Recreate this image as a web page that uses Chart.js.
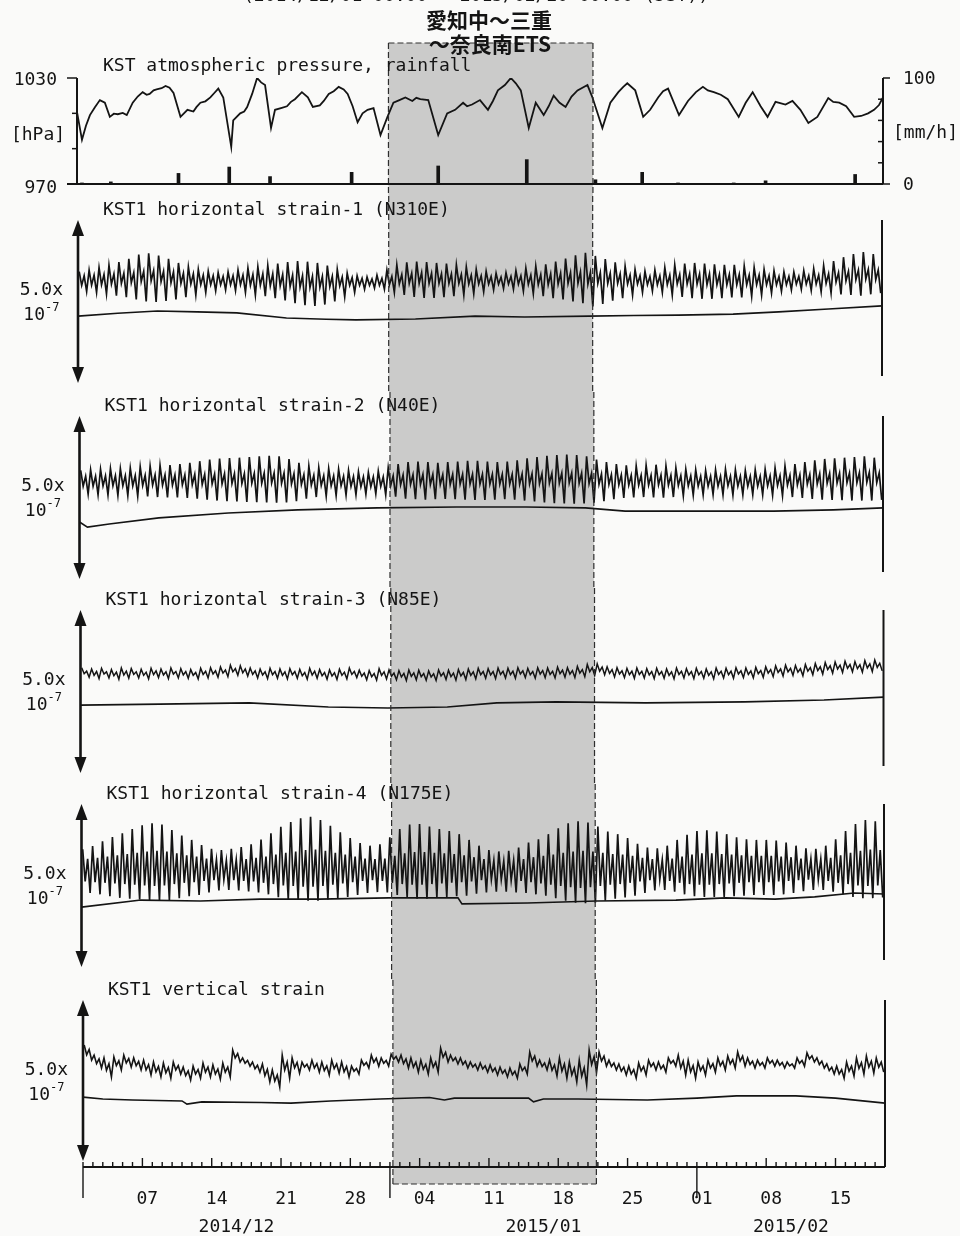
<!DOCTYPE html>
<html>
<head>
<meta charset="utf-8">
<script src="https://cdn.jsdelivr.net/npm/chart.js@4.4.1/dist/chart.umd.min.js"></script>
<style>
body { margin: 0; background: #fafaf9; }
#wrap { position: relative; width: 960px; height: 1236px; overflow: hidden; }
</style>
</head>
<body>
<div id="wrap"></div>
<script>
// ---- time axis (days since 2014/12/01 00:00) ----
const bandStart = 31.3, bandEnd = 51.85;           // 愛知中～三重～奈良南 ETS period
const tickDays = [6, 13, 20, 27, 34, 41, 48, 55, 62, 69, 76];
const tickLabels = ['07', '14', '21', '28', '04', '11', '18', '25', '01', '08', '15'];
const monthStart = [0, 31, 62];
const monthEnd = [31, 62, 81];
const monthLabels = ['2014/12', '2015/01', '2015/02'];

// ---- KST atmospheric pressure [hPa] and rainfall [mm/h] ----
const pressDay = [0.0,0.5,0.9,1.3,1.8,2.3,2.8,3.3,3.7,4.1,4.6,5.0,5.6,6.1,6.6,7.0,7.3,7.7,8.0,8.5,8.9,9.3,9.7,10.4,11.1,11.7,12.0,12.4,12.9,13.4,13.8,14.2,14.7,15.5,15.7,16.4,16.8,17.1,17.6,18.1,18.5,18.9,19.5,19.9,20.5,21.1,21.5,21.9,22.6,23.2,23.7,24.4,24.8,25.3,25.8,26.3,26.8,27.2,27.7,28.2,28.7,29.2,29.8,30.5,31.2,31.8,32.4,33.0,33.7,34.1,34.5,35.3,36.3,37.2,38.0,38.8,39.2,39.7,40.5,41.3,41.8,42.3,43.0,43.6,44.1,44.6,45.4,46.1,46.9,47.4,47.9,48.5,49.1,49.7,50.3,51.3,51.8,52.8,53.6,54.4,54.9,55.3,56.1,56.9,57.6,58.4,58.9,59.4,60.5,61.4,62.2,62.9,63.4,64.0,64.7,65.4,66.5,67.2,67.9,68.7,69.4,70.2,71.2,71.9,72.7,73.5,74.4,75.5,76.0,76.6,77.3,78.1,78.8,79.5,80.1,80.6,81.0];
const pressHpa = [1010.8,995,1003,1009,1013.5,1017.5,1016,1008,1009.8,1009.5,1010.2,1009,1016,1019.5,1022,1020.5,1021,1023,1023.5,1024.2,1025.5,1024.5,1021.5,1008,1012,1011,1013.5,1016,1016.8,1019,1021.5,1024,1019,991,1006,1010,1011,1013.6,1021,1030,1027.5,1026,1001.7,1012,1013,1014,1016.5,1018,1022,1019,1013.6,1014.5,1017,1021,1022.5,1025,1023.5,1021,1014,1005,1010,1012,1013,997.7,1008,1016,1017.5,1019,1017,1018.8,1018,1017.5,997.7,1010,1012,1016,1014,1015,1017.5,1012,1017,1023,1026,1030,1027,1023,1001.7,1016,1009,1014,1020,1016,1013.6,1019.5,1023,1026,1019,1001.7,1016,1022,1025,1027,1023,1008,1012,1019,1022.5,1024,1009,1017,1022,1025,1023,1022,1020.5,1018,1008,1016,1022,1014,1008,1016.5,1015,1017,1012,1004.5,1008,1018.6,1016.5,1016,1014,1008,1008.5,1010,1012,1014.7,1019];
const rainDay = [0.5,3.4,10.2,15.3,19.4,27.6,36.3,45.2,52.1,56.8,60.4,66.0,69.2,78.2];
const rainRate = [1,2,10,16,7,11,17,23,4,11,1,1,3,9];
const pressTicks = [970, 990, 1010, 1030];
const rainTicks = [0, 20, 40, 60, 80, 100];

// ---- strain traces, units of 1e-8 ----
// per day: main high, secondary low, secondary high, main low of the record
const s1Hi = [34.5,35.0,35.8,36.5,37.5,38.5,39.8,40.2,39.5,38.5,37.2,36.0,35.2,34.6,34.2,34.4,35.0,35.6,36.0,36.4,37.0,37.5,37.8,37.6,37.2,36.4,35.2,34.0,33.2,32.8,33.4,35.0,36.6,37.4,37.6,37.5,37.2,37.0,36.6,36.0,35.2,34.6,34.0,34.2,34.8,35.6,36.2,36.8,37.6,38.6,39.6,40.4,39.4,38.4,37.4,36.2,35.2,34.6,35.0,35.8,36.6,37.0,37.2,37.0,36.8,36.6,36.6,36.2,35.8,35.2,34.8,34.4,34.4,34.8,35.4,36.4,37.8,39.0,40.0,40.6,40.0];
const s1Lo2 = [30.2,30.3,30.4,30.6,30.8,31.0,31.4,31.6,31.4,31.0,30.8,30.6,30.4,30.4,30.4,30.4,30.4,30.2,30.2,30.0,30.0,29.8,29.6,29.5,29.6,29.8,30.0,30.2,30.2,30.2,30.2,30.4,30.6,30.8,30.8,30.8,30.8,30.8,30.8,30.6,30.6,30.6,30.6,30.6,30.6,30.5,30.4,30.4,30.6,30.8,30.8,30.6,30.8,30.8,30.8,30.6,30.6,30.4,30.4,30.4,30.6,30.6,30.6,30.4,30.4,30.4,30.4,30.4,30.4,30.4,30.4,30.4,30.6,30.6,30.6,30.8,31.2,31.6,32.0,32.2,32.0];
const s1Hi2 = [33.2,33.4,33.6,33.8,34.0,34.2,34.6,34.8,34.6,34.4,34.0,33.8,33.4,33.2,33.0,33.2,33.4,33.6,33.8,33.8,33.6,33.4,33.2,33.0,33.0,33.0,32.8,32.6,32.4,32.2,32.4,33.0,33.6,34.0,34.2,34.0,33.8,33.8,33.6,33.4,33.2,33.0,32.8,33.0,33.2,33.4,33.6,33.8,34.0,34.2,34.4,34.2,34.2,34.0,33.8,33.4,33.2,33.0,33.2,33.4,33.6,33.8,33.8,33.8,33.6,33.6,33.6,33.4,33.4,33.2,33.0,33.0,33.0,33.2,33.4,33.8,34.2,34.6,35.0,35.2,35.0];
const s1Lo = [28.3,28.0,27.5,27.0,26.5,25.8,25.2,25.0,25.3,25.8,26.5,27.2,28.0,28.5,28.8,28.6,28.0,27.2,26.8,26.2,25.5,24.6,24.0,23.8,24.2,25.2,26.6,28.0,29.0,29.4,29.0,28.0,27.2,26.6,26.3,26.3,26.5,26.8,27.2,27.6,28.2,28.8,29.2,29.0,28.4,27.6,26.8,26.2,25.8,25.2,24.6,23.6,24.4,25.4,26.2,27.2,28.0,28.4,28.0,27.2,26.6,26.2,26.0,26.0,26.2,26.4,26.4,26.8,27.2,27.8,28.4,28.8,29.0,28.6,28.2,27.8,27.4,27.2,27.0,27.4,27.8];
const s1SmDay = [0,4,8,12,16,21,25,28,34,40,45,51.5,56,60.5,66,70.6,75.6,81];
const s1SmVal = [20.6,21.5,22.2,21.9,21.6,20.0,19.6,19.4,19.7,20.6,20.3,20.6,20.8,20.9,21.2,21.9,22.8,23.8];

const s2Hi = [33.6,33.8,34.0,34.2,34.2,34.4,34.8,35.0,35.2,35.3,35.6,36.0,36.5,37.0,37.3,37.5,37.6,37.8,38.0,38.2,38.0,37.2,36.0,35.0,34.5,34.2,34.0,33.6,33.2,33.0,33.4,34.5,35.6,36.2,36.4,36.2,36.0,36.2,36.4,36.6,36.6,36.4,36.2,36.4,36.8,37.4,37.8,38.2,38.4,38.6,38.4,38.0,37.0,36.2,35.6,35.2,35.0,35.2,35.4,35.0,34.4,34.0,33.8,33.6,33.8,34.0,33.8,33.6,33.8,34.0,34.4,35.0,35.6,36.2,36.8,37.2,37.4,37.6,37.8,38.0,37.6];
const s2Lo2 = [28.7,28.7,28.8,28.8,28.8,28.8,28.9,29.0,29.0,29.0,29.1,29.2,29.2,29.4,29.4,29.5,29.5,29.6,29.6,29.7,29.6,29.4,29.2,29.0,28.9,28.8,28.8,28.6,28.5,28.5,28.6,28.9,29.1,29.2,29.2,29.2,29.2,29.2,29.3,29.3,29.3,29.3,29.3,29.3,29.3,29.4,29.5,29.6,29.6,29.7,29.6,29.5,29.3,29.2,29.1,29.0,29.0,29.0,29.1,29.0,28.9,28.8,28.7,28.7,28.7,28.8,28.7,28.7,28.7,28.8,28.9,29.0,29.1,29.3,29.4,29.6,29.7,29.8,29.8,29.9,29.8];
const s2Hi2 = [31.8,31.8,31.9,32.0,32.0,32.0,32.1,32.2,32.2,32.2,32.2,32.4,32.4,32.5,32.6,32.6,32.6,32.7,32.8,32.8,32.8,32.6,32.3,32.1,32.0,31.9,31.8,31.7,31.6,31.6,31.6,31.9,32.2,32.3,32.4,32.4,32.3,32.4,32.4,32.4,32.4,32.4,32.4,32.4,32.5,32.6,32.6,32.7,32.8,32.8,32.8,32.7,32.5,32.3,32.2,32.1,32.1,32.1,32.2,32.1,32.0,31.9,31.8,31.8,31.8,31.8,31.8,31.8,31.8,31.9,32.0,32.1,32.3,32.4,32.6,32.7,32.8,32.8,32.9,33.0,32.9];
const s2Lo = [26.2,26.0,26.0,25.8,25.8,25.6,25.5,25.3,25.2,25.2,25.0,24.8,24.5,24.2,24.0,23.9,23.8,23.7,23.6,23.5,23.6,24.0,24.8,25.3,25.6,25.8,25.9,26.0,26.2,26.3,26.0,25.4,24.8,24.6,24.5,24.6,24.7,24.6,24.5,24.4,24.4,24.5,24.6,24.5,24.2,23.9,23.6,23.4,23.3,23.2,23.3,23.5,24.0,24.6,25.0,25.2,25.3,25.2,25.1,25.3,25.7,25.9,26.0,26.1,26.0,25.9,26.0,26.1,26.0,25.9,25.7,25.3,25.0,24.7,24.5,24.4,24.3,24.2,24.2,24.2,24.4];
const s2SmDay = [0,0.8,3,8,15,22,30,38,45,51,55,62,70,76,81];
const s2SmVal = [17.5,15.9,16.9,18.8,20.3,21.3,21.9,22.2,22.2,21.9,20.9,20.9,20.9,21.3,21.9];

const s3Hi = [32.6,32.2,32.4,32.0,32.5,32.3,32.1,32.4,32.2,32.5,32.3,32.0,32.4,32.6,32.8,33.4,33.2,32.5,32.2,32.4,32.2,32.3,32.1,32.4,32.0,31.9,32.1,32.5,31.8,31.7,32.3,31.9,31.7,31.9,31.8,31.6,31.9,31.8,32.0,32.2,32.4,32.3,32.5,32.4,32.6,32.4,32.6,32.5,32.8,32.6,33.0,33.6,33.8,32.9,32.6,32.4,32.5,32.3,32.4,32.2,32.5,32.3,32.4,32.2,32.5,32.4,32.6,32.5,32.7,32.9,33.2,33.4,33.3,33.6,33.9,34.2,34.4,34.6,34.5,34.8,35.0];
const s3Lo2 = [30.7,30.2,30.6,30.1,30.3,30.5,30.2,30.4,30.3,30.6,30.3,30.2,30.5,30.6,30.9,31.3,31.0,30.5,30.3,30.4,30.2,30.4,30.1,30.3,30.1,30.0,30.2,30.5,29.9,29.8,30.2,29.9,29.7,29.9,29.8,29.7,30.0,29.8,30.0,30.2,30.4,30.3,30.5,30.4,30.6,30.4,30.6,30.5,30.7,30.6,30.9,31.3,31.5,30.8,30.6,30.4,30.5,30.3,30.4,30.2,30.5,30.3,30.4,30.2,30.5,30.4,30.6,30.5,30.7,30.9,31.1,31.3,31.2,31.5,31.7,32.0,32.2,32.4,32.3,32.5,32.7];
const s3Hi2 = [31.5,31.4,31.3,31.2,31.5,31.3,31.2,31.6,31.3,31.4,31.4,31.1,31.5,31.6,31.9,32.3,32.2,31.6,31.3,31.4,31.3,31.4,31.1,31.5,31.1,31.0,31.2,31.4,30.9,30.8,31.3,30.9,30.8,31.0,30.8,30.7,31.0,30.9,31.1,31.3,31.4,31.4,31.5,31.5,31.6,31.4,31.7,31.5,31.8,31.7,32.0,32.6,32.8,32.0,31.6,31.5,31.5,31.4,31.4,31.3,31.5,31.4,31.4,31.3,31.5,31.5,31.6,31.6,31.7,32.0,32.2,32.4,32.3,32.6,32.9,33.2,33.4,33.6,33.5,33.8,34.0];
const s3Lo = [29.6,29.2,29.4,29.0,29.3,29.4,29.1,29.5,29.2,29.4,29.3,29.1,29.4,29.6,29.8,30.2,30.0,29.4,29.2,29.3,29.1,29.3,29.0,29.3,29.0,28.9,29.1,29.5,28.8,28.7,29.1,28.8,28.6,28.8,28.7,28.6,28.9,28.7,28.9,29.1,29.3,29.2,29.4,29.3,29.5,29.3,29.5,29.4,29.6,29.5,29.8,30.2,30.4,29.7,29.5,29.3,29.4,29.2,29.3,29.1,29.4,29.2,29.3,29.1,29.4,29.3,29.5,29.4,29.6,29.8,30.0,30.2,30.1,30.4,30.6,30.9,31.1,31.3,31.2,31.4,31.6];
const s3SmDay = [0,8,17,25,31,37,42,48,57,67,75,81];
const s3SmVal = [20.9,21.2,21.6,20.3,20.0,20.3,21.6,21.9,21.6,21.9,22.5,23.4];

const s4Hi = [36.5,37.5,39.0,40.3,41.5,42.8,44.0,44.6,44.2,42.5,40.8,39.4,37.8,36.6,36.2,36.6,37.2,38.0,39.5,41.5,43.5,45.0,46.2,46.6,45.6,43.8,41.8,40.0,38.4,37.6,38.0,40.2,42.8,44.2,44.4,43.6,42.8,42.2,41.2,39.4,37.6,36.2,35.8,36.0,37.0,38.6,39.6,41.2,43.0,44.6,45.2,44.8,43.6,42.0,41.2,40.0,38.2,37.0,36.8,37.6,39.4,41.0,42.2,42.4,42.0,41.2,40.2,39.6,39.4,39.4,39.2,38.6,37.6,36.8,36.6,37.6,39.6,42.2,44.4,45.6,45.2];
const s4Lo2 = [26.4,26.2,26.0,25.8,25.6,25.4,25.2,25.0,25.2,25.6,26.0,26.2,26.6,26.8,27.0,26.8,26.6,26.4,26.0,25.6,25.2,25.0,24.8,24.8,25.0,25.4,25.8,26.2,26.6,26.8,26.6,26.0,25.6,25.4,25.4,25.6,25.8,26.0,26.2,26.4,26.8,27.0,27.0,26.8,26.6,26.2,25.8,25.4,25.0,24.6,24.4,24.6,25.0,25.4,25.6,26.0,26.4,26.8,27.0,26.6,26.0,25.6,25.4,25.4,25.6,25.8,26.0,26.2,26.2,26.2,26.4,26.6,26.8,27.0,27.0,26.6,26.0,25.6,25.2,25.0,25.2];
const s4Hi2 = [33.5,33.8,34.2,34.6,35.0,35.4,35.8,36.0,35.8,35.2,34.6,34.2,33.6,33.2,33.0,33.2,33.4,33.8,34.2,34.8,35.4,35.8,36.2,36.4,36.0,35.4,34.8,34.2,33.6,33.4,33.6,34.4,35.2,35.6,35.6,35.4,35.2,35.0,34.6,34.0,33.4,33.0,32.8,33.0,33.4,34.0,34.4,34.8,35.4,35.8,36.0,35.8,35.4,35.0,34.8,34.4,33.8,33.4,33.2,33.6,34.2,34.8,35.2,35.2,35.0,34.8,34.6,34.4,34.4,34.4,34.2,34.0,33.6,33.4,33.4,33.8,34.6,35.4,36.0,36.4,36.2];
const s4Lo = [22.8,22.4,21.8,21.3,21.0,20.8,20.6,20.5,20.6,21.2,21.8,22.2,23.0,23.6,23.8,23.6,23.3,23.0,22.4,21.5,20.8,20.6,20.4,20.4,20.8,21.2,21.6,22.2,22.8,23.1,23.0,22.2,21.4,21.0,21.0,21.4,21.6,21.8,22.0,22.6,23.0,23.2,23.2,23.0,22.8,22.4,22.0,21.2,20.4,19.8,19.6,19.8,20.4,21.0,21.4,22.0,22.8,23.6,23.8,23.2,22.4,21.8,21.6,21.6,21.6,21.8,22.0,22.2,22.2,22.2,22.4,22.8,23.4,23.8,23.8,23.2,22.4,21.6,21.2,21.2,21.4];
const s4SmDay = [0,6,12,18,24,31,38,38.4,45,52,60,65,70,74,78,81];
const s4SmVal = [18.4,20.6,20.3,20.9,20.9,21.3,21.3,19.4,19.7,20.3,20.6,21.3,20.9,21.6,22.8,22.5];

const s5Hi = [36.4,33.2,32.3,32.6,33.2,32.3,31.6,31.0,30.7,31.0,29.4,29.7,30.7,30.1,30.7,34.8,32.3,31.0,30.4,28.5,33.2,32.3,31.0,31.6,31.0,31.6,31.0,29.7,31.6,33.2,32.3,33.5,33.2,32.3,31.6,32.3,35.4,33.2,32.3,31.0,30.7,30.1,29.4,29.1,30.4,34.2,31.6,31.6,32.3,31.0,31.6,34.8,34.2,31.6,30.4,29.7,30.7,31.6,31.0,32.3,33.2,31.6,31.0,31.6,32.3,32.9,34.2,32.3,31.6,32.3,31.6,31.0,32.3,33.9,32.3,30.4,29.7,31.0,32.3,32.9,32.3];
const s5Lo2 = [33.3,30.5,28.4,29.9,30.7,29.8,28.5,27.9,27.6,28.5,26.7,27.2,27.8,27.2,27.8,32.3,30.6,28.9,26.7,25.0,28.5,29.2,29.4,29.1,28.3,28.9,27.9,28.1,30.0,30.9,30.6,31.9,30.5,29.4,28.7,29.4,32.5,31.4,30.2,29.4,28.8,28.0,27.4,27.0,28.3,31.3,29.6,28.4,28.1,26.9,26.5,30.2,31.3,29.6,28.1,27.2,28.2,29.6,28.9,30.6,29.1,27.9,28.3,29.1,29.8,30.4,31.3,30.2,30.0,30.6,30.0,29.8,30.6,32.0,30.2,28.3,27.2,28.1,29.0,29.4,29.4];
const s5Hi2 = [35.0,32.0,30.5,31.4,32.1,31.2,30.2,29.6,29.3,29.9,28.2,28.6,29.4,28.8,29.4,33.7,31.5,30.0,28.7,26.9,31.0,30.9,30.3,30.5,29.8,30.4,29.6,29.0,30.9,32.2,31.5,32.8,32.0,31.0,30.3,31.0,34.1,32.4,31.3,30.3,29.8,29.1,28.5,28.1,29.4,32.9,30.7,30.1,30.4,29.1,29.2,32.7,32.9,30.7,29.4,28.6,29.6,30.7,30.0,31.5,31.3,29.9,29.8,30.5,31.2,31.8,32.9,31.3,30.9,31.5,30.9,30.4,31.5,33.0,31.3,29.4,28.6,29.7,30.8,31.3,31.0];
const s5Lo = [31.6,29.1,26.3,28.5,29.4,28.5,26.9,26.3,25.9,27.2,25.3,25.9,26.3,25.6,26.3,31.0,29.7,27.8,24.7,23.1,25.9,27.5,28.5,27.8,26.9,27.5,26.3,27.2,29.1,29.7,29.7,31.0,29.1,27.8,27.2,27.8,31.0,30.4,29.1,28.5,27.8,26.9,26.3,25.9,27.2,29.7,28.5,26.6,25.9,24.7,23.7,27.8,29.7,28.5,26.9,25.9,26.9,28.5,27.8,29.7,26.9,25.9,26.9,27.8,28.5,29.1,29.7,29.1,29.1,29.7,29.1,29.1,29.7,31.0,29.1,27.2,25.9,26.6,27.2,27.5,27.8];
const s5SmDay = [0,2,5,10,10.5,12,18,21,25,30,35,36.5,37.5,40,45,45.5,46.5,50,57,62,66,72,76,81];
const s5SmVal = [19.9,19.3,19.0,18.7,17.7,18.4,18.2,18.0,18.7,19.3,19.8,19.0,19.6,19.6,19.6,18.4,19.3,19.3,19.0,19.6,20.3,20.3,19.6,18.0];

// ---- helpers ----
const INK = '#141414';
const MONO = '"DejaVu Sans Mono", monospace';

function pairs(xs, ys) { return xs.map((x, i) => ({ x: x, y: ys[i] })); }
function tidal(hi, lo2, hi2, lo) {
  const pts = [];
  hi.forEach((h, i) => {
    pts.push({ x: i + 0.12, y: h }, { x: i + 0.37, y: lo2[i] },
             { x: i + 0.62, y: hi2[i] }, { x: i + 0.87, y: lo[i] });
  });
  return pts;
}
function line(data, yId, w) {
  return { type: 'line', data: data, yAxisID: yId, borderColor: INK, borderWidth: w || 1.5,
           pointRadius: 0, tension: 0, fill: false };
}
function seg(ctx, x0, y0, x1, y1) { ctx.beginPath(); ctx.moveTo(x0, y0); ctx.lineTo(x1, y1); ctx.stroke(); }
function text(ctx, s, x, y, align, font) {
  ctx.font = font || ('18px ' + MONO);
  ctx.textAlign = align || 'left';
  ctx.textBaseline = 'middle';
  ctx.fillText(s, x, y);
}

// canvas placement of each panel (pressure + five strain panels)
const PANELS = [
  { top: 0,   h: 196, l: 77,   r: 77,   t: 78, b: 12, bandTop: 43, bandBot: 196 },
  { top: 196, h: 196, l: 78,   r: 78,   t: 26, b: 10, bandTop: 0,  bandBot: 196 },
  { top: 392, h: 196, l: 79.5, r: 77,   t: 26, b: 10, bandTop: 0,  bandBot: 196 },
  { top: 588, h: 196, l: 80.5, r: 76.5, t: 24, b: 12, bandTop: 0,  bandBot: 196 },
  { top: 784, h: 196, l: 81.5, r: 76,   t: 22, b: 14, bandTop: 0,  bandBot: 196 },
  { top: 980, h: 256, l: 83,   r: 75,   t: 22, b: 69, bandTop: 0,  bandBot: 204 }
];

function bandPlugin(p, decor) {
  return {
    id: 'decor',
    beforeDatasetsDraw(chart) {
      const ctx = chart.ctx, xs = chart.scales.x;
      const x0 = xs.getPixelForValue(bandStart), x1 = xs.getPixelForValue(bandEnd);
      ctx.save();
      ctx.fillStyle = '#cbcbca';
      ctx.fillRect(x0, p.bandTop, x1 - x0, p.bandBot - p.bandTop);
      ctx.restore();
    },
    afterDatasetsDraw(chart) {
      const ctx = chart.ctx, xs = chart.scales.x;
      const x0 = xs.getPixelForValue(bandStart), x1 = xs.getPixelForValue(bandEnd);
      ctx.save();
      ctx.strokeStyle = '#2e2e2e';
      ctx.lineWidth = 1.2;
      ctx.setLineDash([6, 3]);
      seg(ctx, x0, p.bandTop, x0, p.bandBot);
      seg(ctx, x1, p.bandTop, x1, p.bandBot);
      if (p.bandTop > 0) seg(ctx, x0, p.bandTop, x1, p.bandTop);
      if (p.bandBot < p.h) seg(ctx, x0, p.bandBot, x1, p.bandBot);
      ctx.restore();
      ctx.save();
      ctx.strokeStyle = INK;
      ctx.fillStyle = INK;
      decor(chart, ctx);
      ctx.restore();
    }
  };
}

function makeChart(p, datasets, yScales, decor) {
  const c = document.createElement('canvas');
  c.width = 960; c.height = p.h;
  c.style.cssText = 'position:absolute;left:0;top:' + p.top + 'px;width:960px;height:' + p.h + 'px';
  document.getElementById('wrap').appendChild(c);
  return new Chart(c.getContext('2d'), {
    type: 'line',
    data: { datasets: datasets },
    options: {
      responsive: false,
      animation: false,
      devicePixelRatio: 1,
      events: [],
      layout: { padding: { left: p.l, right: p.r, top: p.t, bottom: p.b } },
      plugins: { legend: { display: false }, tooltip: { enabled: false } },
      scales: Object.assign({ x: { type: 'linear', min: 0, max: 81, offset: false, display: false } }, yScales)
    },
    plugins: [bandPlugin(p, decor)]
  });
}

// ---- top panel: pressure + rainfall ----
makeChart(PANELS[0], [
  line(pairs(pressDay, pressHpa), 'yp', 1.8),
  { type: 'bar', data: pairs(rainDay, rainRate), yAxisID: 'yr', backgroundColor: INK, barThickness: 3 }
], {
  yp: { type: 'linear', min: 970, max: 1030, display: false },
  yr: { type: 'linear', min: 0, max: 100, display: false }
}, (chart, ctx) => {
  const a = chart.chartArea, yp = chart.scales.yp, yr = chart.scales.yr;
  ctx.lineWidth = 2;
  seg(ctx, a.left, yp.getPixelForValue(1030), a.left, yp.getPixelForValue(970) + 1);
  seg(ctx, a.left - 10, yp.getPixelForValue(970), a.right, yp.getPixelForValue(970));
  seg(ctx, a.right, yr.getPixelForValue(100), a.right, yr.getPixelForValue(0));
  ctx.lineWidth = 1.5;
  pressTicks.forEach(v => {
    const y = yp.getPixelForValue(v), len = (v === 970 || v === 1030) ? 10 : 5;
    seg(ctx, a.left - len, y, a.left, y);
  });
  rainTicks.forEach(v => {
    const y = yr.getPixelForValue(v);
    if (v === 0 || v === 100) seg(ctx, a.right, y, a.right + 7, y);
    else seg(ctx, a.right - 5, y, a.right, y);
  });
  text(ctx, '1030', 57, yp.getPixelForValue(1030) + 2, 'right');
  text(ctx, '[hPa]', 38, 135, 'center');
  text(ctx, '970', 57, yp.getPixelForValue(970) + 4, 'right');
  text(ctx, '100', 903, yr.getPixelForValue(100) + 1, 'left');
  text(ctx, '[mm/h]', 893, 133, 'left');
  text(ctx, '0', 903, yr.getPixelForValue(0) + 1, 'left');
  text(ctx, 'KST atmospheric pressure, rainfall', a.left + 26, 66, 'left');
  text(ctx, '(2014/12/01 00:00 - 2015/02/20 00:00 (JST))', 476, -4, 'center');
  text(ctx, '愛知中～三重', 489, 20, 'center', 'bold 21px "Noto Sans CJK JP"');
  text(ctx, '～奈良南ETS', 490, 44, 'center', 'bold 21px "Noto Sans CJK JP"');
});

// ---- strain panels ----
function strainDecor(title, withAxis) {
  return (chart, ctx) => {
    const a = chart.chartArea, ys = chart.scales.y;
    const yb = ys.getPixelForValue(0), yt = ys.getPixelForValue(50);
    // double-headed 5.0x10^-7 scale arrow
    ctx.lineWidth = 2.6;
    seg(ctx, a.left, yt + 8, a.left, yb - 8);
    ctx.beginPath();
    ctx.moveTo(a.left, yt - 2); ctx.lineTo(a.left - 6, yt + 14); ctx.lineTo(a.left + 6, yt + 14); ctx.closePath();
    ctx.moveTo(a.left, yb + 1); ctx.lineTo(a.left - 6, yb - 15); ctx.lineTo(a.left + 6, yb - 15); ctx.closePath();
    ctx.fill();
    ctx.lineWidth = 2;
    seg(ctx, a.right, yt - 2, a.right, withAxis ? a.bottom : yb - 6);
    text(ctx, '5.0x', a.left - 15, yt + 68, 'right');
    text(ctx, '10', a.left - 33, yt + 93, 'right');
    text(ctx, '-7', a.left - 33, yt + 86, 'left', '12px ' + MONO);
    text(ctx, title, a.left + 25, yt - 12, 'left');
    if (!withAxis) return;
    // time axis
    const xs = chart.scales.x, y0 = a.bottom;
    seg(ctx, a.left, y0, a.right, y0);
    ctx.lineWidth = 1.4;
    for (let d = 0; d <= 80; d++) {
      const px = xs.getPixelForValue(d);
      if (monthStart.includes(d)) seg(ctx, px, y0 - 5, px, y0 + 31);
      else if (tickDays.includes(d)) seg(ctx, px, y0 - 9, px, y0);
      else seg(ctx, px, y0 - 5, px, y0);
    }
    tickDays.forEach((d, i) => text(ctx, tickLabels[i], xs.getPixelForValue(d + 0.5), y0 + 32, 'center'));
    monthLabels.forEach((m, i) => {
      const mid = (monthStart[i] + monthEnd[i]) / 2;
      text(ctx, m, xs.getPixelForValue(mid), y0 + 60, 'center');
    });
  };
}

const strainSets = [
  { hi: s1Hi, lo2: s1Lo2, hi2: s1Hi2, lo: s1Lo, smD: s1SmDay, smV: s1SmVal, w: 1.7, title: 'KST1 horizontal strain-1 (N310E)' },
  { hi: s2Hi, lo2: s2Lo2, hi2: s2Hi2, lo: s2Lo, smD: s2SmDay, smV: s2SmVal, w: 1.7, title: 'KST1 horizontal strain-2 (N40E)' },
  { hi: s3Hi, lo2: s3Lo2, hi2: s3Hi2, lo: s3Lo, smD: s3SmDay, smV: s3SmVal, w: 1.5, title: 'KST1 horizontal strain-3 (N85E)' },
  { hi: s4Hi, lo2: s4Lo2, hi2: s4Hi2, lo: s4Lo, smD: s4SmDay, smV: s4SmVal, w: 1.7, title: 'KST1 horizontal strain-4 (N175E)' },
  { hi: s5Hi, lo2: s5Lo2, hi2: s5Hi2, lo: s5Lo, smD: s5SmDay, smV: s5SmVal, w: 1.6, title: 'KST1 vertical strain' }
];

strainSets.forEach((s, i) => {
  const last = i === strainSets.length - 1;
  makeChart(PANELS[i + 1], [
    line(tidal(s.hi, s.lo2, s.hi2, s.lo), 'y', s.w),
    line(pairs(s.smD, s.smV), 'y', 1.6)
  ], {
    y: { type: 'linear', min: last ? -2.2 : 0, max: 50, display: false }
  }, strainDecor(s.title, last));
});
</script>
</body>
</html>
